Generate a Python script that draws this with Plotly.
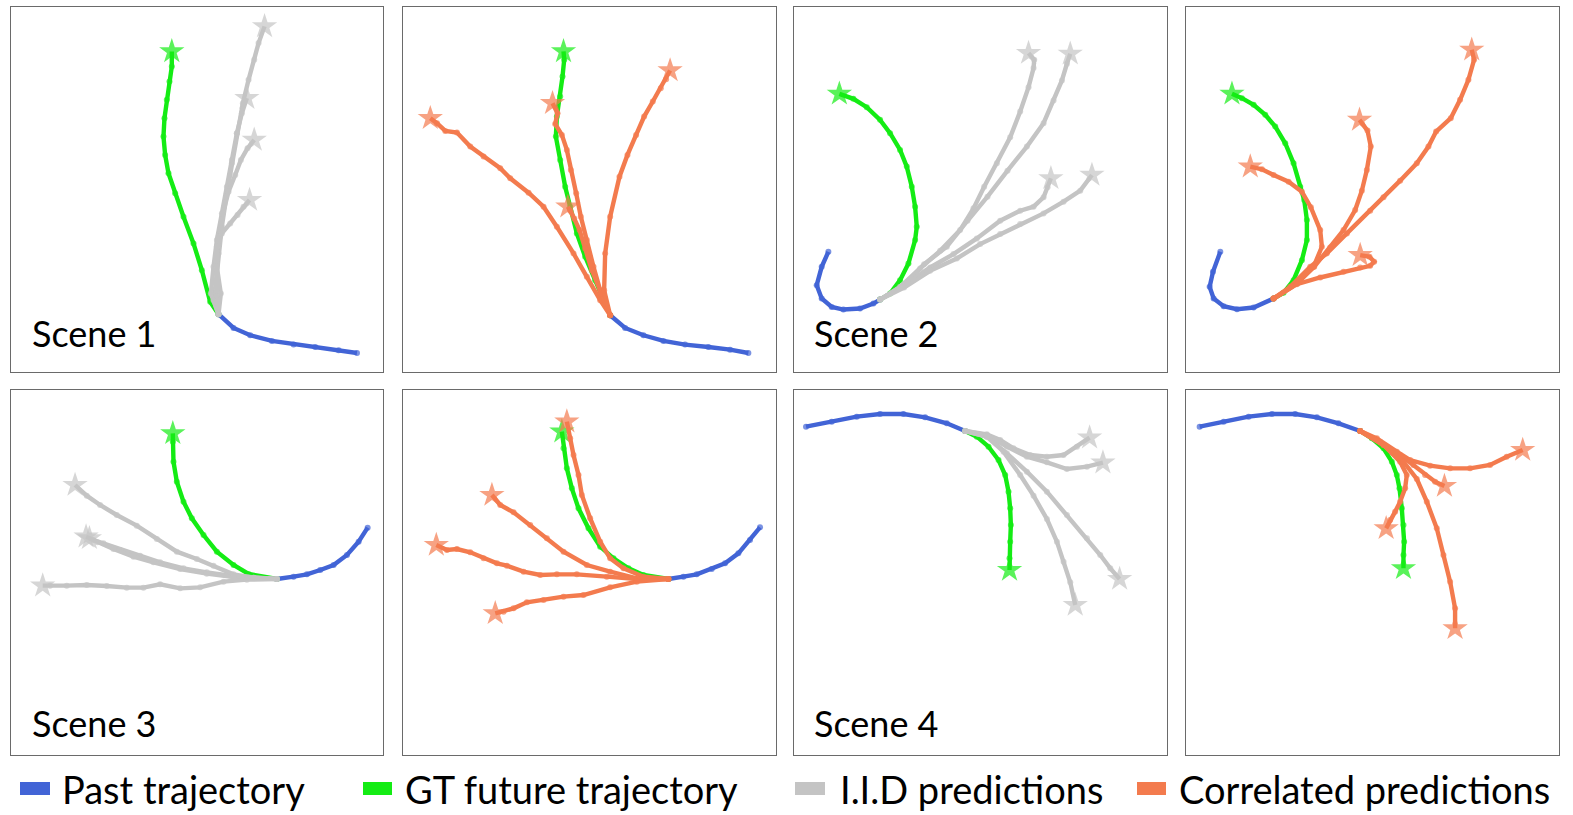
import plotly.graph_objects as go

W, H = 1573, 815

# ---- colours / labels ----
C_PAST = "#4264D6"
C_GT = "#14EC14"
C_IID = "#C4C4C4"
C_COR = "#F37B4E"
SCENE_LABELS = ["Scene 1", "Scene 2", "Scene 3", "Scene 4"]
LEGEND_LABELS = ["Past trajectory", "GT future trajectory", "I.I.D predictions", "Correlated predictions"]

# ---- trajectories (panel-local units, y grows downward) ----
P1_PAST = [(1070,1058),(1015,1050),(945,1040),(880,1033),(815,1022),(750,1005),(700,983),(655,942)]
P1_GT = [(655,942),(630,905),(605,810),(580,730),(550,650),(525,580),(505,520),(495,465),(490,410),(493,355),(500,300),(508,245),(515,200),(515,155)]
P1_IID = [
    [(655,942),(640,900),(648,840),(655,760),(665,680),(680,580),(695,490),(710,400),(728,310),(745,240),(762,180),(775,130),(793,80)],
    [(655,942),(632,880),(640,800),(650,720),(665,640),(680,560),(695,480),(710,400),(725,340),(740,295)],
    [(655,942),(650,870),(648,780),(655,710),(668,640),(685,575),(705,525),(722,480),(742,445),(762,420)],
    [(655,942),(662,880),(650,800),(650,740),(665,700),(690,670),(712,645),(730,620),(748,600)],
]

P2_PAST = [(1075,1058),(1020,1048),(955,1040),(885,1033),(820,1022),(760,1005),(705,983),(660,945)]
P2_GT = [(660,945),(635,890),(615,840),(585,770),(560,700),(540,620),(525,560),(510,480),(497,410),(500,350),(510,290),(517,230),(522,180),(520,155)]
P2_COR = [
    [(660,945),(630,900),(590,830),(550,760),(500,680),(460,620),(415,578),(360,535),(330,505),(280,470),(240,440),(200,398),(165,393),(140,370),(120,355)],
    [(660,945),(630,870),(610,800),(590,720),(572,650),(558,580),(542,510),(530,450),(515,405),(495,372),(502,340),(487,310)],
    [(660,945),(632,880),(605,810),(585,745),(568,690),(552,655),(540,632),(533,620)],
    [(660,945),(642,870),(645,760),(660,650),(688,530),(712,465),(738,405),(762,350),(788,305),(812,265),(828,238),(840,212)],
]

P3_PAST = [(145,755),(125,800),(110,855),(125,895),(155,920),(190,928),(240,925),(280,910),(300,898)]
P3_GT = [(300,898),(330,880),(360,840),(385,790),(405,720),(410,680),(405,620),(395,560),(380,500),(360,450),(330,400),(300,360),(260,322),(220,297),(178,282)]
P3_IID = [
    [(300,898),(360,860),(420,805),(480,752),(540,690),(580,625),(612,560),(650,490),(690,412),(720,335),(745,262),(760,205),(762,180),(745,160)],
    [(300,898),(370,855),(432,792),(500,740),(562,662),(622,590),(682,512),(740,440),(790,370),(820,302),(845,242),(860,192),(870,162)],
    [(300,898),(372,855),(450,802),(520,762),(590,715),(660,662),(720,632),(760,620),(790,592),(802,562),(812,535)],
    [(300,898),(372,862),(450,812),(530,775),(600,732),(660,702),(720,672),(790,640),(850,605),(900,572),(935,525)],
]

P4_PAST = [(150,755),(128,815),(118,860),(130,895),(160,918),(200,927),(250,922),(310,895)]
P4_GT = [(310,895),(340,878),(370,840),(395,780),(410,720),(410,660),(402,600),(390,560),(370,490),(345,430),(315,380),(285,345),(250,315),(215,295),(185,282)]
P4_COR = [
    [(310,895),(360,860),(420,800),(470,760),(530,700),(600,632),(640,592),(690,542),(740,490),(775,440),(798,395),(842,355),(870,300),(895,240),(912,180),(905,150)],
    [(310,895),(380,850),(432,800),(480,742),(520,690),(555,630),(575,572),(590,510),(602,440),(592,392),(568,360)],
    [(310,895),(380,850),(430,800),(455,740),(450,690),(422,622),(395,575),(355,545),(310,525),(275,508),(240,500)],
    [(310,895),(380,852),(450,832),(520,815),(570,802),(600,797),(612,785),(598,770),(570,765)],
]

P5_PAST = [(1102,458),(1075,500),(1040,540),(1000,570),(960,585),(920,598),(880,605),(830,612)]
P5_GT = [(830,612),(745,597),(700,570),(650,530),(610,480),(575,430),(550,380),(530,320),(520,260),(518,200),(518,175)]
P5_IID = [
    [(830,612),(760,608),(700,598),(640,572),(590,552),(530,530),(470,492),(410,452),(350,420),(300,390),(260,362),(225,330)],
    [(830,612),(760,608),(690,602),(620,592),(550,580),(480,562),(420,542),(360,525),(310,505),(280,495),(258,485)],
    [(830,612),(700,606),(620,596),(540,582),(460,562),(400,545),(340,522),(292,502),(268,490)],
    [(830,612),(740,614),(670,620),(600,637),(540,640),(480,628),(430,638),(380,638),(320,633),(260,630),(200,632),(150,632),(128,632)],
]

P6_PAST = [(1110,457),(1080,495),(1045,535),(1005,565),(965,582),(920,598),(880,605),(835,612)]
P6_GT = [(835,612),(760,600),(715,580),(670,550),(630,515),(595,460),(565,400),(545,340),(530,280),(520,220),(515,170)]
P6_COR = [
    [(835,612),(760,605),(700,580),(660,550),(630,500),(600,430),(575,360),(565,300),(550,240),(540,190),(530,140)],
    [(835,612),(740,610),(660,590),(590,570),(520,530),(470,490),(420,450),(370,412),(330,390),(305,360)],
    [(835,612),(740,612),(650,605),(560,598),(500,598),(450,600),(400,590),(350,572),(320,565),(280,550),(240,532),(200,522),(170,525),(138,510)],
    [(835,612),(740,620),(660,637),(580,660),(520,665),(460,675),(410,682),(370,700),(340,710),(315,715)],
]

P7_PAST = [(78,155),(155,140),(230,125),(300,117),(370,117),(435,127),(500,145),(555,168)]
P7_GT = [(555,168),(590,185),(625,215),(655,255),(675,300),(685,350),(690,400),(692,450),(690,500),(688,550),(688,585)]
P7_IID = [
    [(555,168),(620,178),(660,195),(700,220),(750,240),(800,245),(850,240),(890,215),(928,188)],
    [(555,168),(620,180),(680,215),(740,245),(800,262),(860,282),(920,275),(968,263)],
    [(555,168),(620,185),(680,235),(740,290),(800,350),(860,420),(920,490),(960,540),(990,580),(1018,612)],
    [(555,168),(620,185),(670,230),(720,300),(760,362),(800,432),(830,500),(850,560),(870,622),(885,690)],
]

P8_PAST = [(88,155),(160,140),(235,125),(305,117),(375,117),(440,127),(505,145),(570,168)]
P8_GT = [(570,168),(605,190),(640,220),(665,260),(680,300),(688,340),(695,400),(700,450),(702,500),(700,540),(700,580)]
P8_COR = [
    [(570,168),(620,190),(680,230),(720,255),(780,272),(840,280),(900,280),(960,270),(1010,245),(1058,225)],
    [(570,168),(630,200),(690,240),(730,270),(765,300),(795,320),(823,333)],
    [(570,168),(640,210),(690,260),(710,300),(705,340),(690,380),(675,410),(660,435),(648,460)],
    [(570,168),(640,210),(700,260),(740,312),(770,380),(800,460),(820,540),(840,620),(855,700),(855,760)],
]

PANELS = [
    (P1_PAST, P1_GT, P1_IID, C_IID), (P2_PAST, P2_GT, P2_COR, C_COR),
    (P3_PAST, P3_GT, P3_IID, C_IID), (P4_PAST, P4_GT, P4_COR, C_COR),
    (P5_PAST, P5_GT, P5_IID, C_IID), (P6_PAST, P6_GT, P6_COR, C_COR),
    (P7_PAST, P7_GT, P7_IID, C_IID), (P8_PAST, P8_GT, P8_COR, C_COR),
]

# panel-local extents (x range, y range) of each frame
X_EXT = [(33, 1148), (38, 1158), (42, 1160), (47, 1167)]
Y_EXT = [(22, 1115), (45, 1140)]

# ---- layout in pixels ----
COL_PX = [(11, 383), (403, 776), (794, 1167), (1186, 1559)]
ROW_PX = [(7, 372), (390, 755)]


def px(x):
    return x / W


def py(y):
    return 1 - y / H


fig = go.Figure()
layout = dict(
    width=W, height=H, margin=dict(l=0, r=0, t=0, b=0),
    paper_bgcolor="white", plot_bgcolor="white", showlegend=False,
)


def add_traj(pts, color, xa, ya, star, width=4.4):
    xs = [p[0] for p in pts]
    ys = [p[1] for p in pts]
    n = len(pts)
    sym = ["circle"] * n
    size = [6] * n
    if star:
        sym[-1] = "star"
        size[-1] = 19
    fig.add_trace(go.Scatter(
        x=xs, y=ys, mode="lines+markers", xaxis=xa, yaxis=ya,
        line=dict(color=color, width=width),
        marker=dict(color=color, symbol=sym, size=size, line=dict(width=0)),
        hoverinfo="skip",
    ))


for i, (past, gt, preds, pcol) in enumerate(PANELS):
    r, c = divmod(i, 4)
    k = i + 1
    xa = "x" if k == 1 else f"x{k}"
    ya = "y" if k == 1 else f"y{k}"
    xname = "xaxis" if k == 1 else f"xaxis{k}"
    yname = "yaxis" if k == 1 else f"yaxis{k}"
    x0, x1 = COL_PX[c]
    y0, y1 = ROW_PX[r]
    ax = dict(showgrid=False, zeroline=False, showticklabels=False, ticks="",
              showline=True, mirror=True, linecolor="#6a6a6a", linewidth=1.3,
              fixedrange=True)
    layout[xname] = dict(ax, domain=[px(x0), px(x1)], range=list(X_EXT[c]), anchor=ya)
    layout[yname] = dict(ax, domain=[py(y1), py(y0)], range=[Y_EXT[r][1], Y_EXT[r][0]], anchor=xa)
    add_traj(past, C_PAST, xa, ya, star=False)
    add_traj(gt, C_GT, xa, ya, star=True)
    for pr in preds:
        add_traj(pr, pcol, xa, ya, star=True)

annotations = []
shapes = []
# scene labels (left panel of each pair)
SCENE_POS = [(30, 333), (812, 333), (30, 723), (812, 723)]
for lab, (sx, sy) in zip(SCENE_LABELS, SCENE_POS):
    annotations.append(dict(text=lab, x=px(sx), y=py(sy), xref="paper", yref="paper",
                            xanchor="left", yanchor="middle", showarrow=False,
                            font=dict(family="Lato", size=36, color="black")))

# legend row
LEG_SQ = [(20, 50), (363, 392), (795, 825), (1137, 1166)]
LEG_TX = [60, 403, 838, 1177]
LEG_COL = [C_PAST, C_GT, C_IID, C_COR]
for lab, (a, b), tx, col in zip(LEGEND_LABELS, LEG_SQ, LEG_TX, LEG_COL):
    shapes.append(dict(type="rect", xref="paper", yref="paper",
                       x0=px(a), x1=px(b), y0=py(795), y1=py(782),
                       fillcolor=col, line=dict(width=0)))
    annotations.append(dict(text=lab, x=px(tx), y=py(789), xref="paper", yref="paper",
                            xanchor="left", yanchor="middle", showarrow=False,
                            font=dict(family="Lato", size=38, color="black")))

layout["annotations"] = annotations
layout["shapes"] = shapes
fig.update_layout(**layout)
fig.write_html("out.html", config={"displayModeBar": False},
               post_script="document.body.style.margin='0px';document.body.style.overflow='hidden';")
